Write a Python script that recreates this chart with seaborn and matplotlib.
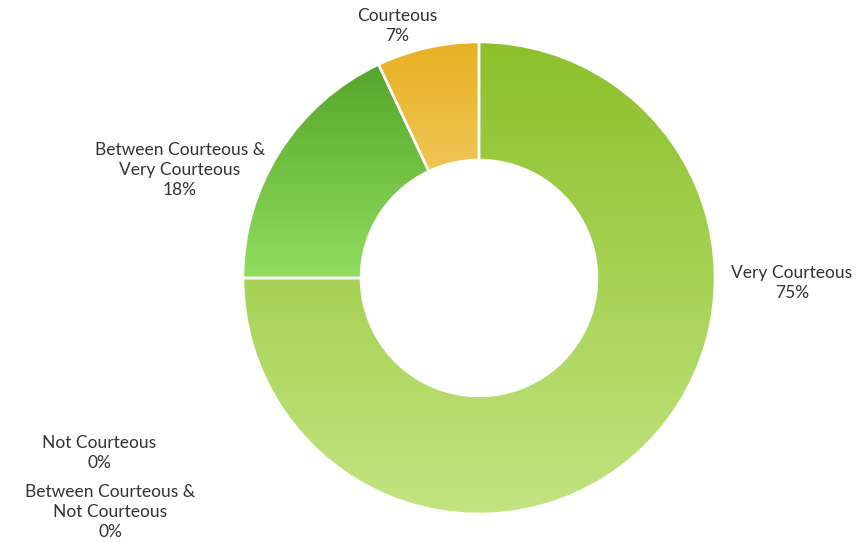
import numpy as np
import matplotlib
matplotlib.use("Agg")
import matplotlib.pyplot as plt
import matplotlib.colors as mcolors
import seaborn as sns

# Survey results: how courteous was the staff
categories = ["Very Courteous", "Between Courteous &\nVery Courteous", "Courteous",
              "Not Courteous", "Between Courteous &\nNot Courteous"]
percentages = [75, 18, 7, 0, 0]

# Top and bottom colours of each slice's vertical gradient
top_colors = ["#8cc02a", "#56a52a", "#e8b122", "#c8c8c8", "#c8c8c8"]
bottom_colors = ["#c2e582", "#90dd60", "#f4d682", "#e0e0e0", "#e0e0e0"]

# Label anchor points (pixel space, y measured from the top)
label_pos = [(792, 283), (180, 170), (397, 26), (99, 453), (110, 512)]

sns.set_theme(style="white")
plt.rcParams["font.family"] = ["Lato", "DejaVu Sans"]

W, H = 856, 542
fig = plt.figure(figsize=(W / 100, H / 100), dpi=100)
ax = fig.add_axes([0, 0, 1, 1])

cx, cy, R = 479, H - 278, 236
wedges, _ = ax.pie(percentages, startangle=90, counterclock=False,
                   center=(cx, cy), radius=R, frame=True,
                   wedgeprops=dict(width=R * 0.5, edgecolor="white", linewidth=1.8))

grad = np.linspace(0, 1, 256)[:, None]
for w, c0, c1, v in zip(wedges, top_colors, bottom_colors, percentages):
    if v == 0:
        w.set_visible(False)
        continue
    verts = w.get_path().vertices
    x0, x1 = verts[:, 0].min(), verts[:, 0].max()
    y0, y1 = verts[:, 1].min(), verts[:, 1].max()
    cmap = mcolors.LinearSegmentedColormap.from_list("g", [c0, c1])
    img = ax.imshow(grad, cmap=cmap, extent=(x0, x1, y0, y1), origin="upper",
                    aspect="auto", zorder=w.get_zorder(), interpolation="bilinear")
    img.set_clip_path(w)
    w.set_facecolor("none")
    w.set_zorder(w.get_zorder() + 1)

ax.set_xlim(0, W)
ax.set_ylim(0, H)
ax.set_aspect("equal")
ax.axis("off")

for name, pct, (lx, ly) in zip(categories, percentages, label_pos):
    ax.text(lx, H - ly, f"{name}\n{pct}%", ha="center", va="center",
            fontsize=12.5, color="#333333", linespacing=1.3)

fig.savefig("out.png", dpi=100, facecolor="white")
